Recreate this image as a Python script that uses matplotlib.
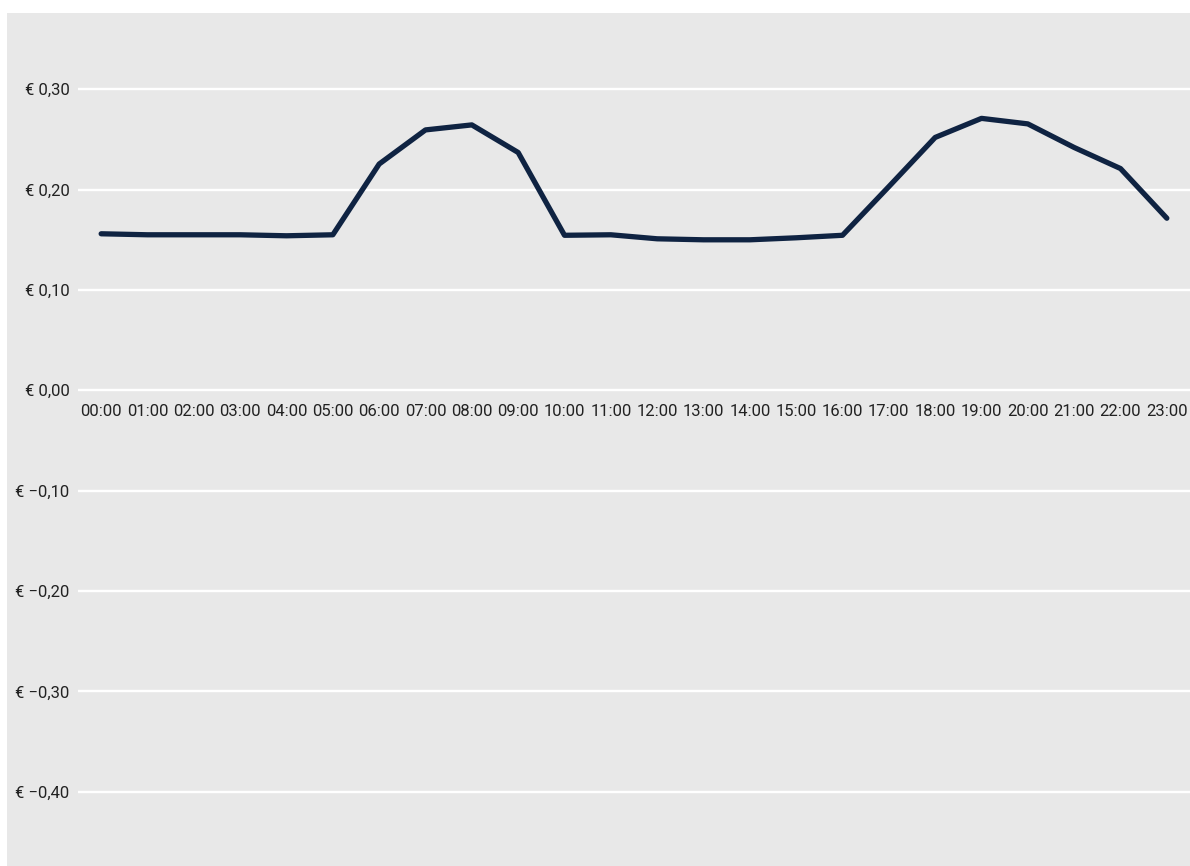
import matplotlib.pyplot as plt
from matplotlib.patches import Rectangle
from matplotlib.ticker import FuncFormatter

# uurprijzen (euro per kWh)
uren = [f"{h:02d}:00" for h in range(24)]
prijzen = [0.156, 0.155, 0.155, 0.155, 0.154, 0.155, 0.2255, 0.2595,
           0.2645, 0.237, 0.1545, 0.155, 0.151, 0.150, 0.150, 0.152,
           0.1545, 0.203, 0.252, 0.271, 0.2655, 0.242, 0.221, 0.1715]
y_ticks = [-0.4, -0.3, -0.2, -0.1, 0.0, 0.1, 0.2, 0.3]

W, H = 1190, 866
fig = plt.figure(figsize=(W / 100, H / 100), dpi=100, facecolor="white")

# grijs vlak achter de grafiek
fig.patches.append(Rectangle((7 / W, 0), 1 - 7 / W, 1 - 13 / H,
                             transform=fig.transFigure, facecolor="#e8e8e8",
                             edgecolor="none", zorder=-10))

ax = fig.add_axes([78 / W, 0, 1 - 78 / W, 1 - 13 / H])
ax.set_facecolor("none")

x = list(range(len(uren)))
ax.plot(x, prijzen, color="#0f2342", linewidth=3.8,
        solid_capstyle="round", solid_joinstyle="round", zorder=3)

ax.set_xlim(-0.5, 23.5)
ax.set_ylim(-0.474, 0.376)
ax.set_yticks(y_ticks)
ax.yaxis.set_major_formatter(FuncFormatter(
    lambda v, p: "€ " + f"{v:.2f}".replace(".", ",").replace("-", "\u2212")))
ax.grid(axis="y", color="white", linewidth=1.7, zorder=1)
ax.set_xticks(x)
ax.set_xticklabels(uren)

for s in ax.spines.values():
    s.set_visible(False)
ax.spines["bottom"].set_position(("data", 0))

ax.tick_params(axis="both", length=0, colors="#222222", labelsize=12)
ax.tick_params(axis="y", pad=6)
ax.tick_params(axis="x", pad=10)
for lbl in ax.get_xticklabels() + ax.get_yticklabels():
    lbl.set_family("Roboto")

fig.savefig("out.png", dpi=100)
